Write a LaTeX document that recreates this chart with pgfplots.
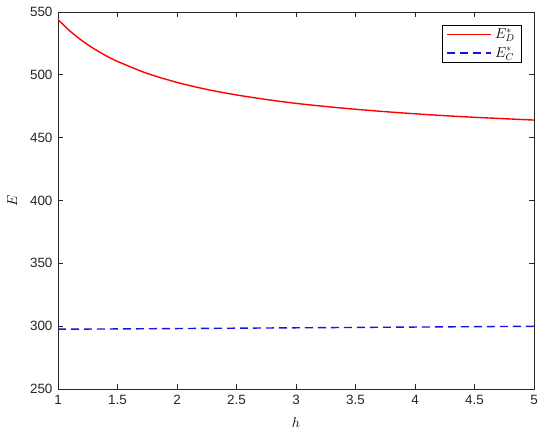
\documentclass[border=0pt]{standalone}
\usepackage{pgfplots}
\pgfplotsset{compat=1.18}
\usepackage{fontspec}
\setmainfont{Liberation Sans}
\definecolor{mred}{RGB}{255,0,0}
\definecolor{mblue}{RGB}{20,20,230}
\begin{document}
\fontsize{13}{15}\selectfont
\begin{tikzpicture}
\begin{axis}[
  scale only axis,
  width=476bp, height=377bp,
  xmin=1, xmax=5, ymin=250, ymax=550,
  xtick={1,1.5,2,2.5,3,3.5,4,4.5,5},
  ytick={250,300,350,400,450,500,550},
  xticklabels={1,1.5,2,2.5,3,3.5,4,4.5,5},
  /pgf/number format/assume math mode=true,
  tick align=inside,
  major tick length=5bp,
  axis line style={line width=0.8bp, black!85},
  every tick/.style={line width=0.8bp, black!85},
  tick label style={font=\fontsize{13.5}{15}\selectfont, black!85},
  xticklabel style={yshift=-2bp},
  yticklabel style={xshift=-1bp},
  xlabel={$h$}, ylabel={$E$},
  xlabel style={font=\fontsize{15}{17}\selectfont, yshift=-4bp},
  ylabel style={font=\fontsize{15}{17}\selectfont, yshift=4bp},
  legend style={at={(1,1)}, anchor=north east, xshift=-12bp, yshift=-13bp,
    draw=black, line width=0.8bp,
    nodes={font=\fontsize{14}{16}\selectfont, inner xsep=3bp, inner ysep=0bp},
    inner xsep=4bp, inner ysep=3bp, row sep=7bp},
  legend cell align=left,
  legend image code/.code={\draw[#1] (0bp,0bp) -- (44bp,0bp);},
]
\addplot[color=mred, line width=1.4bp, smooth] coordinates {
 (1,544) (1.1,534.9) (1.2,527.3) (1.3,520.9) (1.4,515.4) (1.5,510.7)
 (1.75,501.1) (2,494) (2.25,488.4) (2.5,484) (2.75,480.4) (3,477.3)
 (3.25,474.8) (3.5,472.6) (3.75,470.7) (4,469) (4.25,467.5) (4.5,466.2)
 (4.75,465.1) (5,464)
};
\addlegendentry{$E^*_D$}
\addplot[color=mblue, line width=1.4bp, dash pattern=on 8bp off 5bp] coordinates {
 (1,297.6) (1.5,297.8) (2,298.1) (2.5,298.4) (3,298.7) (3.5,299.0) (4,299.3) (4.5,299.6) (5,299.9)
};
\addlegendentry{$E^*_C$}
\end{axis}
\pgfresetboundingbox
\path ([shift={(-58bp,-45bp)}]current axis.south west) rectangle ([shift={(16bp,12bp)}]current axis.north east);
\end{tikzpicture}
\end{document}
